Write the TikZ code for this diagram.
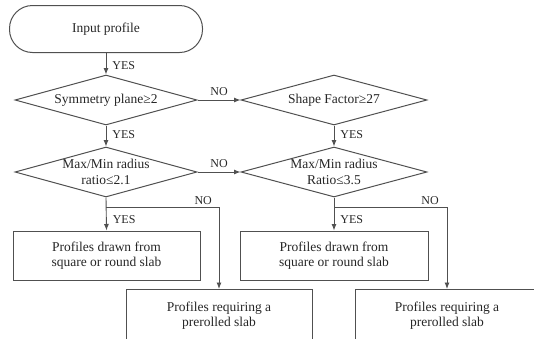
\documentclass[tikz,border=0pt]{standalone}
\usepackage{fontspec}
\setmainfont{Liberation Serif}
\usetikzlibrary{shapes.geometric,arrows.meta,calc}
\definecolor{ln}{HTML}{505050}
\definecolor{tx}{HTML}{262626}
\begin{document}
\begin{tikzpicture}[x=1pt,y=-1pt,
  every node/.style={text=tx, font=\fontsize{13.5}{15.5}\selectfont},
  startbox/.style={draw=ln, line width=1pt, rectangle, rounded corners=23pt, minimum width=193pt, minimum height=47pt},
  decide/.style={draw=ln, line width=1pt, diamond, aspect=3.6, inner xsep=-3pt, inner ysep=0pt, minimum width=182pt, minimum height=50pt, align=center},
  procbox/.style={draw=ln, line width=1pt, rectangle, minimum width=187pt, minimum height=49pt, align=center, inner sep=0pt},
  openbox/.style={procbox, minimum height=52pt, anchor=north},
  conn/.style={draw=ln, line width=0.9pt, -{Latex[length=6.5pt,width=5pt]}},
  lbl/.style={font=\fontsize{12}{12}\selectfont, inner sep=1pt}
]
\useasboundingbox (0,0) rectangle (534,338);
\clip (0,0) rectangle (534,338);

\node[startbox] (in) at (106,29) {Input profile};
\node[decide] (d1) at (106,100) {Symmetry plane≥2};
\node[decide, minimum width=186pt] (d2) at (334,100) {Shape Factor≥27};
\node[decide] (d3) at (106,172) {Max/Min radius\\ratio≤2.1};
\node[decide, minimum width=186pt] (d4) at (334,172) {Max/Min radius\\Ratio≤3.5};
\node[procbox] (b1) at (106.5,255.5) {Profiles drawn from\\square or round slab};
\node[procbox, minimum width=188pt] (b2) at (334,255.5) {Profiles drawn from\\square or round slab};
\node[openbox, minimum width=186pt] (b3) at (219,289) {Profiles requiring a\\prerolled slab};
\node[openbox, minimum width=184pt] (b4) at (447,289) {Profiles requiring a\\prerolled slab};

\draw[conn] (in.south) -- node[lbl, anchor=west, xshift=5pt, pos=0.6]{YES} (d1.north);
\draw[conn] (d1.south) -- node[lbl, anchor=west, xshift=5pt, pos=0.45]{YES} (d3.north);
\draw[conn] (d2.south) -- node[lbl, anchor=west, xshift=5pt, pos=0.43]{YES} (d4.north);
\draw[conn] (d1.east) -- node[lbl, above, yshift=3pt]{NO} (d2.west);
\draw[conn] (d3.east) -- node[lbl, above, yshift=3pt]{NO} (d4.west);
\draw[conn] (d3.south) -- node[lbl, anchor=west, xshift=5pt, pos=0.68]{YES} (b1.north);
\draw[conn] (d4.south) -- node[lbl, anchor=west, xshift=5pt, pos=0.68]{YES} (b2.north);
\coordinate (j1) at ($(d3.south)+(0,10)$);
\coordinate (j2) at ($(d4.south)+(0,10)$);
\draw[conn] (j1) -| node[lbl, above, pos=0.43, yshift=1pt]{NO} (b3.north);
\draw[conn] (j2) -| node[lbl, above, pos=0.425, yshift=1pt]{NO} (b4.north);
\end{tikzpicture}
\end{document}
